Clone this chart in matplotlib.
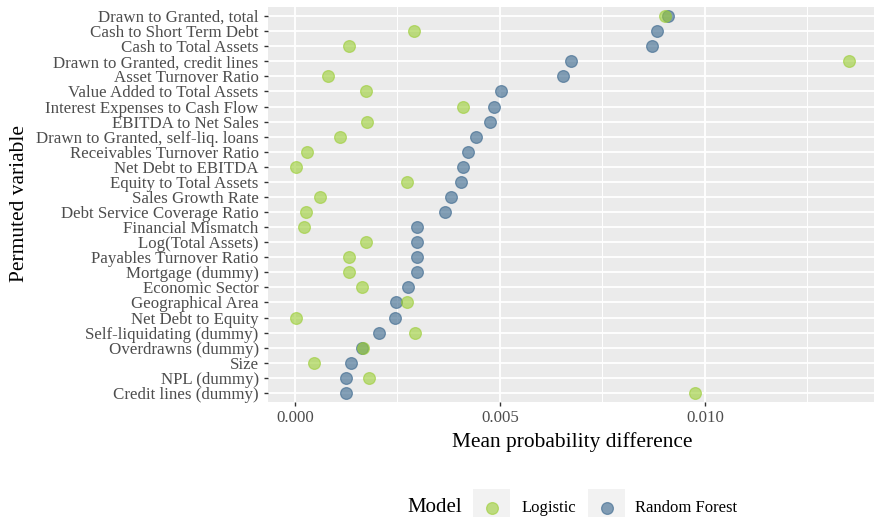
import numpy as np
import matplotlib
matplotlib.use('Agg')
import matplotlib.pyplot as plt
from matplotlib.patches import Rectangle
from matplotlib.lines import Line2D

# Permuted variables, top to bottom
variables = [
    'Drawn to Granted, total', 'Cash to Short Term Debt', 'Cash to Total Assets',
    'Drawn to Granted, credit lines', 'Asset Turnover Ratio', 'Value Added to Total Assets',
    'Interest Expenses to Cash Flow', 'EBITDA to Net Sales', 'Drawn to Granted, self-liq. loans',
    'Receivables Turnover Ratio', 'Net Debt to EBITDA', 'Equity to Total Assets',
    'Sales Growth Rate', 'Debt Service Coverage Ratio', 'Financial Mismatch',
    'Log(Total Assets)', 'Payables Turnover Ratio', 'Mortgage (dummy)', 'Economic Sector',
    'Geographical Area', 'Net Debt to Equity', 'Self-liquidating (dummy)',
    'Overdrawns (dummy)', 'Size', 'NPL (dummy)', 'Credit lines (dummy)',
]

# mean probability difference for each model
logistic = [0.00902, 0.00290, 0.00132, 0.01351, 0.00080, 0.00173,
            0.00411, 0.00175, 0.00110, 0.00030, 0.00003, 0.00274,
            0.00061, 0.00028, 0.00022, 0.00174, 0.00132, 0.00131,
            0.00163, 0.00274, 0.00003, 0.00294, 0.00166, 0.00048,
            0.00182, 0.00976]
random_forest = [0.00909, 0.00883, 0.00871, 0.00673, 0.00654, 0.00503,
                 0.00486, 0.00476, 0.00441, 0.00423, 0.00410, 0.00406,
                 0.00382, 0.00367, 0.00299, 0.00299, 0.00298, 0.00297,
                 0.00275, 0.00246, 0.00244, 0.00206, 0.00164, 0.00138,
                 0.00126, 0.00125]

models = ['Logistic', 'Random Forest']
colors = {'Logistic': '#9ACD32', 'Random Forest': '#36648B'}
alpha = 0.6

W, H = 874, 517
plt.rcParams['font.family'] = ['Liberation Serif', 'DejaVu Serif']

fig = plt.figure(figsize=(W / 100, H / 100), dpi=100)
ax = fig.add_axes([268.4 / W, 1 - 402 / H, (876.5 - 268.4) / W, (402 - 7) / H])
ax.set_facecolor('#EBEBEB')

n = len(variables)
ypos = np.arange(n, 0, -1)

# forest points first, logistic ones on top
for name, vals in [('Random Forest', random_forest), ('Logistic', logistic)]:
    ax.scatter(vals, ypos, s=72, color=colors[name], alpha=alpha,
               edgecolors=colors[name], linewidths=0.9, zorder=3)

# ggplot-like expansion of the scales
allv = np.array(logistic + random_forest)
lo, hi = allv.min(), allv.max()
pad = 0.05 * (hi - lo)
ax.set_xlim(lo - pad, hi + pad)
ax.set_ylim(0.4, n + 0.6)

ax.set_xticks([0.0, 0.005, 0.010])
ax.set_xticklabels(['0.000', '0.005', '0.010'])
ax.set_xticks([0.0025, 0.0075, 0.0125], minor=True)
ax.set_yticks(ypos)
ax.set_yticklabels(variables)

ax.grid(which='major', color='white', linewidth=1.3, zorder=0)
ax.grid(which='minor', axis='x', color='white', linewidth=0.7, zorder=0)
ax.set_axisbelow(True)
for s in ax.spines.values():
    s.set_visible(False)

ax.tick_params(axis='both', which='major', color='#333333', length=3, width=1,
               labelcolor='#4D4D4D', labelsize=12.2)
ax.tick_params(axis='y', pad=4)
ax.tick_params(axis='x', pad=3)
ax.tick_params(which='minor', length=0)

ax.set_xlabel('Mean probability difference', fontsize=15.4, color='black', labelpad=4)
fig.text(20 / W, 1 - 204 / H, 'Permuted variable', rotation=90, fontsize=15.4,
         ha='center', va='center')

# legend along the bottom
fig.text(407 / W, 1 - 508 / H, 'Model', fontsize=15, ha='left', va='center')
key_x = [473, 588]
label_x = [521.7, 635]
for name, kx, lx in zip(models, key_x, label_x):
    fig.add_artist(Rectangle((kx / W, 1 - 526 / H), 37 / W, 37 / H,
                             transform=fig.transFigure, facecolor='#F2F2F2',
                             edgecolor='none'))
    fig.add_artist(Line2D([(kx + 18.5) / W], [1 - 507.5 / H], marker='o',
                          markersize=8.5, color=colors[name], alpha=alpha,
                          markeredgewidth=0.9, linestyle='none',
                          transform=fig.transFigure))
    fig.text(lx / W, 1 - 508 / H, name, fontsize=12, ha='left', va='center')

fig.savefig('out.png', dpi=100)
